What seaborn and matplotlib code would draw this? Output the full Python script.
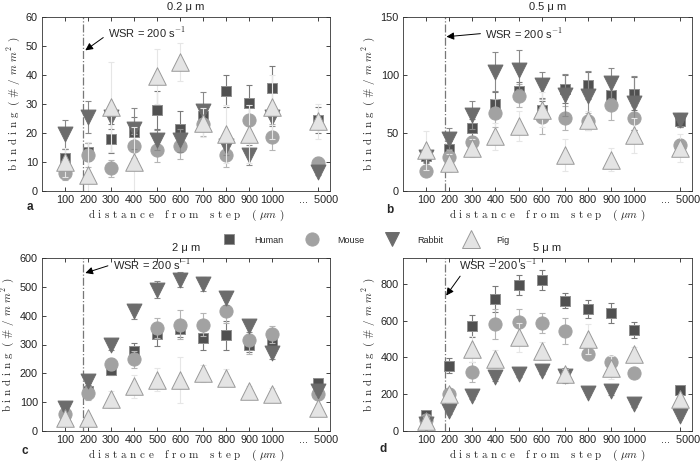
import numpy as np
import pandas as pd
import seaborn as sns
from matplotlib import pyplot as plt
from matplotlib.lines import Line2D

# x positions: 100..1000, then 5000 drawn after a gap
distances = [100, 200, 300, 400, 500, 600, 700, 800, 900, 1000, 1200]
distance_labels = ["100", "200", "300", "400", "500", "600", "700", "800",
                   "900", "1000", "...  5000"]
species = ["Human", "Mouse", "Rabbit", "Pig"]
panel_titles = ["0.2 \u03bc m", "0.5 \u03bc m", "2 \u03bc m", "5 \u03bc m"]
panel_letters = ["a", "b", "c", "d"]
wsr_x = 180

# 0.2 um
human_02 = [11.5, 13.5, 18, 20.5, 28, 21.5, 26, 34.5, 30.5, 35.5, 24.5]
human_02_err = [3, 3, 5, 5, 6.5, 6, 3, 5.5, 6, 7.5, 4.5]
mouse_02 = [6.2, 12.4, 7.8, 15.5, 14, 15.4, 23, 12.4, 24.6, 18.6, 9.7]
mouse_02_err = [2.5, 4, 3, 4, 4, 4.5, 4, 4, 5, 4.5, 2]
rabbit_02 = [19.5, 25.5, 25.5, 21.5, 17.5, 17.5, 27.5, 15.5, 12.5, 25.5, 6.5]
rabbit_02_err = [5, 5.5, 4, 7, 3.5, 4, 6.5, 3, 3.5, 3, 1]
pig_02 = [10, 5.5, 29, 10, 39.5, 44.5, 23.5, 19.5, 19.5, 29, 24]
pig_02_err = [5, 11.5, 15.5, 12, 9.5, 6.5, 5, 10, 10, 11, 6]

# 0.5 um
human_05 = [30, 36, 54, 75, 86, 70, 88, 91, 83, 84, 60]
human_05_err = [5, 7, 8, 10, 8, 8, 12, 12, 12, 14, 5]
mouse_05 = [17, 29, 42.5, 67, 82, 64, 63, 60, 74, 63, 39.5]
mouse_05_err = [4, 6, 5, 12, 10, 15, 10, 7, 13, 10, 5]
rabbit_05 = [29, 45, 65.5, 103, 104.5, 91.5, 83, 81.5, 93, 76, 61]
rabbit_05_err = [5, 9, 12, 17, 17, 11, 18, 22, 13, 23, 6]
pig_05 = [35, 24, 37, 47, 56, 70, 31, 61, 27, 48, 37]
pig_05_err = [17, 8, 8, 12, 13, 15, 14, 8, 10, 15, 12]

# 2 um
human_2 = [55, 140, 213, 279, 335, 355, 321, 332, 300, 310, 167]
human_2_err = [10, 25, 20, 25, 40, 30, 40, 50, 25, 30, 15]
mouse_2 = [58, 133, 233, 248, 358, 369, 369, 415, 317, 335, 130]
mouse_2_err = [15, 25, 20, 30, 35, 50, 40, 40, 50, 30, 10]
rabbit_2 = [80, 175, 300, 415, 490, 525, 510, 461, 363, 271, 138]
rabbit_2_err = [10, 15, 20, 25, 30, 25, 25, 25, 20, 20, 10]
pig_2 = [45, 46, 110, 155, 178, 178, 200, 185, 140, 130, 80]
pig_2_err = [10, 10, 30, 40, 40, 80, 30, 30, 15, 20, 15]

# 5 um
human_5 = [85, 355, 573, 718, 795, 822, 709, 664, 640, 549, 222]
human_5_err = [15, 40, 60, 70, 55, 55, 40, 50, 55, 45, 15]
mouse_5 = [60, 200, 322, 582, 591, 585, 545, 418, 373, 313, 136]
mouse_5_err = [15, 25, 55, 80, 70, 55, 70, 30, 20, 15, 15]
rabbit_5 = [40, 109, 191, 291, 309, 327, 300, 209, 218, 145, 82]
rabbit_5_err = [10, 15, 15, 20, 15, 20, 40, 15, 20, 15, 10]
pig_5 = [55, 200, 445, 391, 509, 436, 309, 500, 345, 418, 173]
pig_5_err = [20, 20, 70, 50, 80, 50, 30, 80, 60, 40, 20]

panels = [
    [(human_02, human_02_err), (mouse_02, mouse_02_err),
     (rabbit_02, rabbit_02_err), (pig_02, pig_02_err)],
    [(human_05, human_05_err), (mouse_05, mouse_05_err),
     (rabbit_05, rabbit_05_err), (pig_05, pig_05_err)],
    [(human_2, human_2_err), (mouse_2, mouse_2_err),
     (rabbit_2, rabbit_2_err), (pig_2, pig_2_err)],
    [(human_5, human_5_err), (mouse_5, mouse_5_err),
     (rabbit_5, rabbit_5_err), (pig_5, pig_5_err)],
]

rows = []
for p, series in enumerate(panels):
    for name, (vals, errs) in zip(species, series):
        for x, v, e in zip(distances, vals, errs):
            rows.append({"panel": p, "species": name, "pos": x,
                         "binding": v, "err": e})
data = pd.DataFrame(rows)

sns.set_style("ticks")
plt.rcParams["font.family"] = ["Liberation Sans", "DejaVu Sans"]
plt.rcParams["mathtext.fontset"] = "cm"

markers = {"Human": "s", "Mouse": "o", "Rabbit": "v", "Pig": "^"}
face = {"Human": "#505050", "Mouse": "#a2a2a2", "Rabbit": "#6c6c6c", "Pig": "#e4e4e4"}
edge = {"Human": "#909090", "Mouse": "#a2a2a2", "Rabbit": "#6c6c6c", "Pig": "#9a9a9a"}
ecol = {"Human": "#7a7a7a", "Mouse": "#b5b5b5", "Rabbit": "#8a8a8a", "Pig": "#e6e6e6"}
msize = {"Human": 60, "Mouse": 90, "Rabbit": 115, "Pig": 160}

ylims = [(0, 60), (0, 150), (0, 600), (0, 940)]
yticks = [np.arange(0, 61, 10), np.arange(0, 151, 50),
          np.arange(0, 601, 100), np.arange(0, 801, 200)]
# text position, arrow tip, arrow start point on text
wsr_text = [(285, 54.5), (355, 136), (306, 578), (244, 905)]
wsr_tip = [(188, 48.5), (188, 133), (188, 548), (187, 736)]
wsr_rel = [(0.0, 0.4), (0.0, 0.5), (0.0, 0.5), (0.05, 0.0)]

fig = plt.figure(figsize=(7, 4.63), dpi=100)
boxes = [
    [42 / 700, 1 - 191 / 463, 288 / 700, 174 / 463],
    [403 / 700, 1 - 191 / 463, 289 / 700, 174 / 463],
    [42 / 700, 1 - 431 / 463, 288 / 700, 173 / 463],
    [403 / 700, 1 - 431 / 463, 289 / 700, 173 / 463],
]

ylab = r"b i n d i n g  ( # / $m\ m^{\,2}$ )"
xlab = r"d i s t a n c e   f r o m   s t e p   ( $\mu m$ )"

for p in range(4):
    ax = fig.add_axes(boxes[p])
    ax.axvline(wsr_x, color="#777777", ls="-.", lw=0.9, zorder=0.5)
    for k, name in enumerate(species):
        sub = data[(data["panel"] == p) & (data["species"] == name)]
        ax.errorbar(sub["pos"], sub["binding"], yerr=sub["err"], fmt="none",
                    ecolor=ecol[name], elinewidth=0.8, capsize=2.5,
                    capthick=0.8, zorder=2 + 2 * k)
        sns.scatterplot(data=sub, x="pos", y="binding", marker=markers[name],
                        s=msize[name], color=face[name], edgecolor=edge[name],
                        linewidth=0.7, ax=ax, legend=False, zorder=3 + 2 * k)
    ax.set_xlim(0, 1250)
    ax.set_ylim(*ylims[p])
    ax.set_xticks(distances)
    ax.set_xticklabels(distance_labels)
    ax.set_yticks(yticks[p])
    ax.tick_params(direction="in", top=True, right=True, length=3, width=0.6,
                   labelsize=7.8, colors="#222222", pad=3)
    for s in ax.spines.values():
        s.set_linewidth(0.6)
        s.set_color("#333333")
    ax.set_xlabel(xlab, fontfamily="cmr10", fontsize=8, labelpad=1.5)
    ax.set_ylabel(ylab, fontfamily="cmr10", fontsize=8, labelpad=2.5)
    ax.set_title(panel_titles[p], fontsize=8, pad=5)
    ax.annotate("WSR = 200 s$^{-1}$", xy=wsr_tip[p], xytext=wsr_text[p],
                ha="left", va="center", fontsize=8,
                arrowprops=dict(arrowstyle="-|>", color="k", lw=0.7,
                                mutation_scale=11, shrinkA=1, shrinkB=0,
                                relpos=wsr_rel[p]))

letter_pos = [(30, 207), (390, 210), (25, 451), (383, 449)]
for letter, (lx, ly) in zip(panel_letters, letter_pos):
    fig.text(lx / 700, 1 - ly / 463, letter, fontsize=8.5, fontweight="bold",
             ha="center", va="center")

handles = [Line2D([], [], ls="none", marker=markers[n], markersize=np.sqrt(msize[n]),
                  markerfacecolor=face[n], markeredgecolor=edge[n],
                  markeredgewidth=0.7) for n in species]
fig.legend(handles, species, ncol=4, frameon=False, fontsize=6.5,
           loc="center", bbox_to_anchor=(365 / 700, 1 - 240 / 463),
           handlelength=2, handletextpad=1.8, columnspacing=2.1)

fig.savefig("out.png", dpi=100)
